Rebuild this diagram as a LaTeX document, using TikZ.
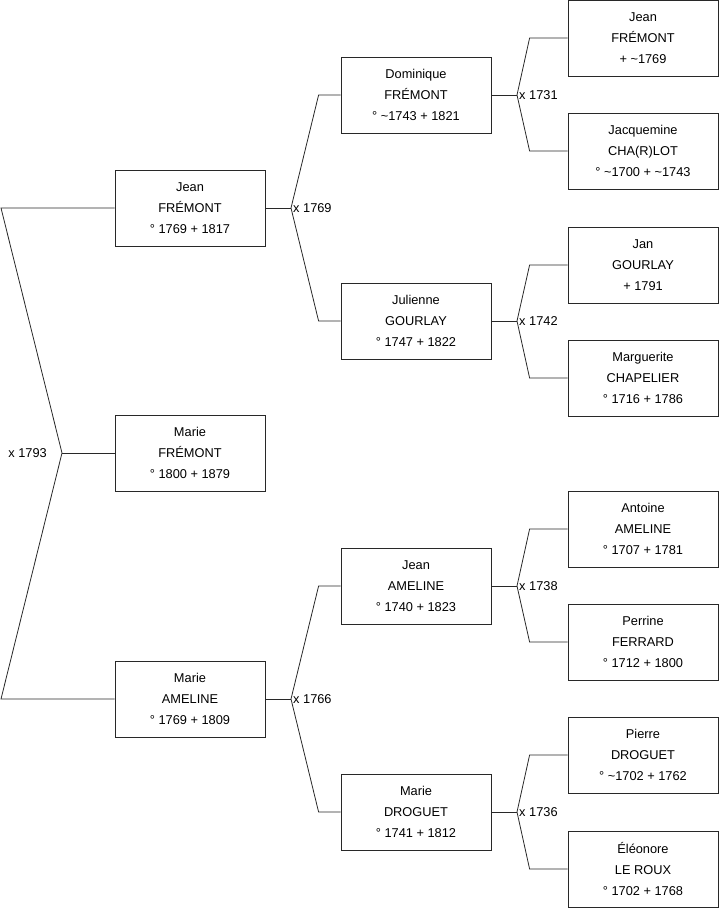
\documentclass[tikz,border=0pt]{standalone}
\usepackage{fontspec}
\setmainfont{Liberation Sans}
\definecolor{trait}{RGB}{40, 40, 40}
\usetikzlibrary{calc}

\tikzset{
  personne/.style = {
    draw           = trait,
    line width     = 0.8pt,
    fill           = white,
    minimum width  = 150pt,
    minimum height = 76pt,
    inner sep      = 0pt,
    align          = center,
    font           = \fontsize{12.8}{21}\selectfont
  },
  lien/.style  = {draw = trait, line width = 0.8pt},
  union/.style = {font = \fontsize{12.8}{14}\selectfont, inner sep = 1pt}
}

\begin{document}
\begin{tikzpicture}[x=1pt, y=-1pt]
  \useasboundingbox (0,0) rectangle (719,908);

  % generation 1
  \node[personne] (f) at (190,208) {Jean\\FRÉMONT\\° 1769 + 1817};
  \node[personne] (p) at (190,453) {Marie\\FRÉMONT\\° 1800 + 1879};
  \node[personne] (m) at (190,699) {Marie\\AMELINE\\° 1769 + 1809};

  % generation 2
  \node[personne] (ff) at (416,95)  {Dominique\\FRÉMONT\\° \textasciitilde1743 + 1821};
  \node[personne] (fm) at (416,321) {Julienne\\GOURLAY\\° 1747 + 1822};
  \node[personne] (mf) at (416,586) {Jean\\AMELINE\\° 1740 + 1823};
  \node[personne] (mm) at (416,812) {Marie\\DROGUET\\° 1741 + 1812};

  % generation 3
  \node[personne] (fff) at (643,38)  {Jean\\FRÉMONT\\+ \textasciitilde1769};
  \node[personne] (ffm) at (643,151) {Jacquemine\\CHA(R)LOT\\° \textasciitilde1700 + \textasciitilde1743};
  \node[personne] (fmf) at (643,265) {Jan\\GOURLAY\\+ 1791};
  \node[personne] (fmm) at (643,378) {Marguerite\\CHAPELIER\\° 1716 + 1786};
  \node[personne] (mff) at (643,529) {Antoine\\AMELINE\\° 1707 + 1781};
  \node[personne] (mfm) at (643,642) {Perrine\\FERRARD\\° 1712 + 1800};
  \node[personne] (mmf) at (643,755) {Pierre\\DROGUET\\° \textasciitilde1702 + 1762};
  \node[personne] (mmm) at (643,869) {Éléonore\\LE ROUX\\° 1702 + 1768};

  % mariages
  \coordinate (u0) at (62,453);
  \coordinate (u1) at (291,208);
  \coordinate (u2) at (291,699);
  \coordinate (u3) at (517,95);
  \coordinate (u4) at (517,321);
  \coordinate (u5) at (517,586);
  \coordinate (u6) at (517,812);

  \draw[lien] (f.west) -- (1,208) -- (u0) -- (1,699) -- (m.west);
  \draw[lien] (u0) -- (p.west);
  \node[union, anchor=east] (x0) at ($(u0)+(-14,0)$) {x 1793};

  \foreach \u/\pere/\mere/\enf/\d/\annee in {
      u1/ff/fm/f/22/1769, u2/mf/mm/m/22/1766,
      u3/fff/ffm/ff/38/1731, u4/fmf/fmm/fm/38/1742,
      u5/mff/mfm/mf/38/1738, u6/mmf/mmm/mm/38/1736}{
    \draw[lien] (\enf.east) -- (\u);
    \draw[lien] (\pere.west) -- ++(-\d,0) -- (\u) -- ($(\mere.west)+(-\d,0)$) -- (\mere.west);
    \node[union, anchor=west] (x\u) at ($(\u)+(1,0)$) {x \annee};
  }
\end{tikzpicture}
\end{document}
